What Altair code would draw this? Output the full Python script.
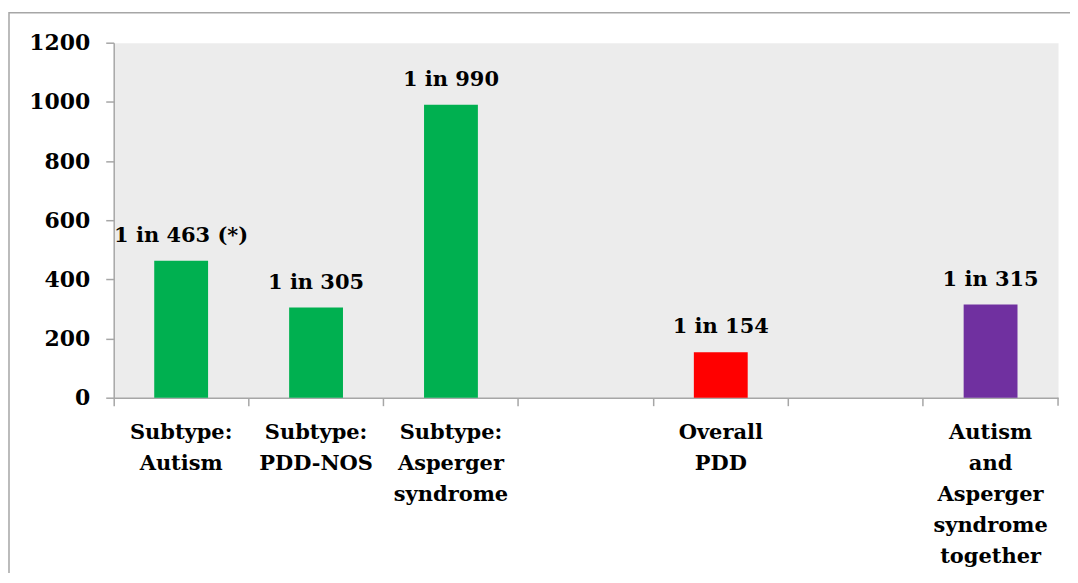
import altair as alt
import pandas as pd

categories = ["Subtype:|Autism", "Subtype:|PDD-NOS", "Subtype:|Asperger|syndrome",
              "Overall|PDD", "Autism|and|Asperger|syndrome|together"]
values = [463, 305, 990, 154, 315]
bar_labels = ["1 in 463 (*)", "1 in 305", "1 in 990", "1 in 154", "1 in 315"]
colors = ["#00b050", "#00b050", "#00b050", "#ff0000", "#7030a0"]
slots = categories[:3] + ["gap1"] + [categories[3]] + ["gap2"] + [categories[4]]
y_ticks = [0, 200, 400, 600, 800, 1000, 1200]

W, H = 947, 356
FONT = "DejaVu Serif"

df = pd.DataFrame({"cat": categories, "value": values, "label": bar_labels})

xenc = alt.X("cat:N", sort=slots,
             scale=alt.Scale(domain=slots, paddingInner=0, paddingOuter=0),
             axis=alt.Axis(title=None, labelAngle=0, bandPosition=0,
                           labelExpr="indexof(datum.label,'gap')==0 ? '' : split(datum.label,'|')",
                           labelFont=FONT, labelFontWeight="bold", labelFontSize=21,
                           labelColor="black", labelLineHeight=31, labelPadding=16,
                           labelBaseline="top",
                           domainColor="#a6a6a6", domainWidth=1.5,
                           tickColor="#a6a6a6", tickWidth=1.5, tickSize=8,
                           grid=False))
yenc = alt.Y("value:Q", scale=alt.Scale(domain=[0, 1200], nice=False),
             axis=alt.Axis(title=None, values=y_ticks, grid=False, format="d",
                           labelFont=FONT, labelFontWeight="bold", labelFontSize=22,
                           labelColor="black", labelPadding=16,
                           domainColor="#a6a6a6", domainWidth=1.5,
                           tickColor="#a6a6a6", tickWidth=1.5, tickSize=8))

base = alt.Chart(df)
bars = base.mark_bar(size=54).encode(
    x=xenc, y=yenc,
    color=alt.Color("cat:N", scale=alt.Scale(domain=categories, range=colors), legend=None),
)
texts = base.mark_text(font=FONT, fontWeight="bold", fontSize=21, baseline="alphabetic",
                       dy=-19, color="black").encode(
    x=alt.X("cat:N", sort=slots), y="value:Q", text="label:N")

one = pd.DataFrame({"a": [0]})
end_tick = alt.Chart(one).mark_rule(color="#a6a6a6", strokeWidth=1.5).encode(
    x=alt.value(W), y=alt.value(H), y2=alt.value(H + 8))
frame = alt.Chart(one).mark_rect(fillOpacity=0, stroke="#a6a6a6", strokeWidth=1.5).encode(
    x=alt.value(-105), y=alt.value(-30), x2=alt.value(W + 60), y2=alt.value(H + 250))

chart = alt.layer(frame, bars, texts, end_tick).properties(
    width=W, height=H,
    autosize=alt.AutoSizeParams(type="none"),
    padding={"left": 106, "top": 34, "right": 12, "bottom": 175},
).configure(background="white").configure_view(fill="#ececec", stroke="transparent")

chart.save("out.html", embed_options={"renderer": "svg", "actions": False})
